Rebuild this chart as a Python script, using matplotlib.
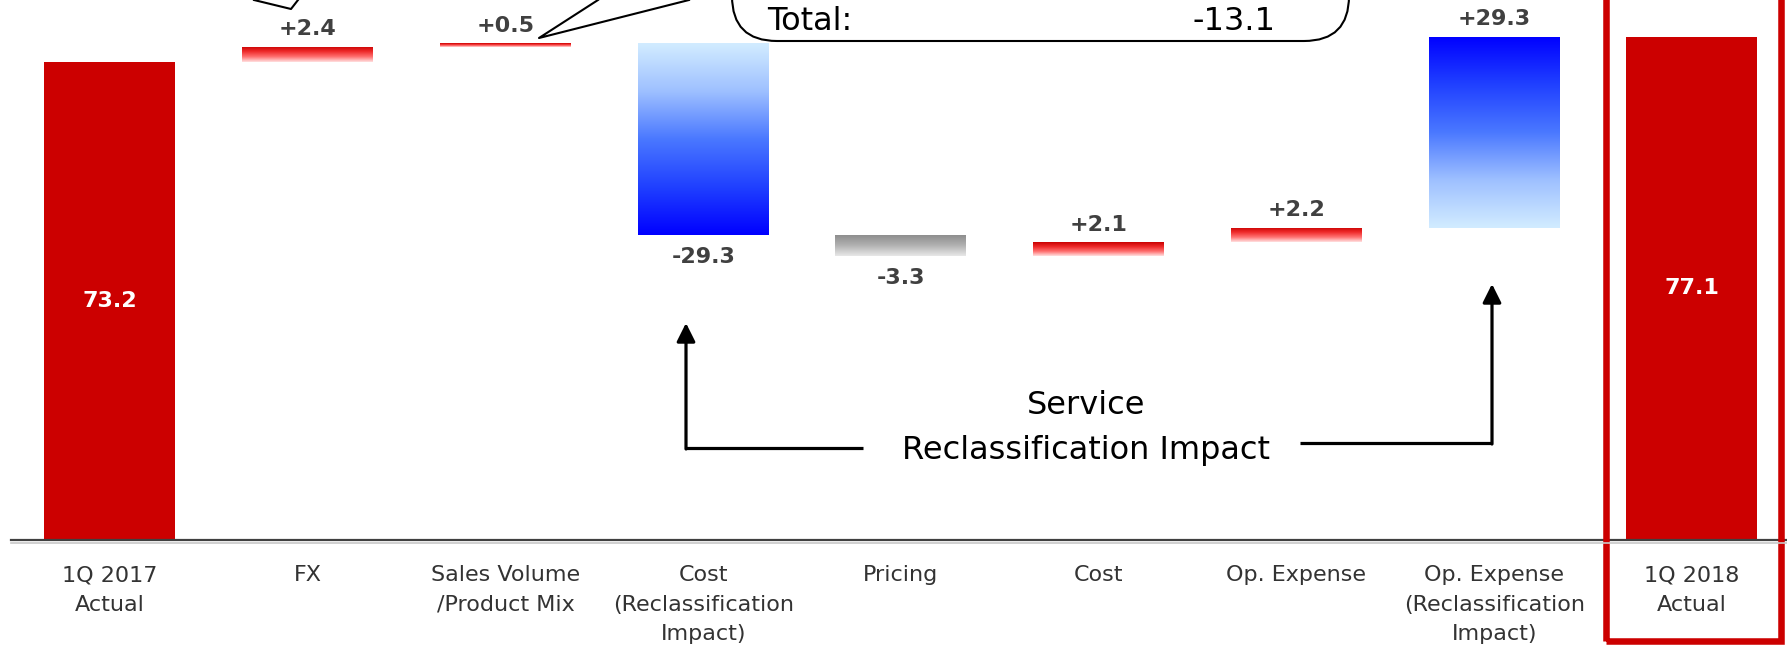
import numpy as np
import matplotlib
matplotlib.use("Agg")
import matplotlib.pyplot as plt
from matplotlib.colors import LinearSegmentedColormap
from matplotlib.patches import FancyBboxPatch, Rectangle
from matplotlib.transforms import blended_transform_factory

# data
categories = ["1Q 2017\nActual", "FX", "Sales Volume\n/Product Mix",
              "Cost\n(Reclassification\nImpact)", "Pricing", "Cost",
              "Op. Expense", "Op. Expense\n(Reclassification\nImpact)",
              "1Q 2018\nActual"]
values = [73.2, 2.4, 0.5, -29.3, -3.3, 2.1, 2.2, 29.3, 77.1]
is_total = [True, False, False, False, False, False, False, False, True]
value_labels = ["73.2", "+2.4", "+0.5", "-29.3", "-3.3", "+2.1", "+2.2", "+29.3", "77.1"]
bar_style = ["total", "red", "red", "blue_dn", "grey", "red", "red", "blue_up", "total"]

callout_label = "Total:"
callout_value = "-13.1"
note_text = "Service\nReclassification Impact"

W, H = 1787, 646
fig = plt.figure(figsize=(W / 100, H / 100), dpi=100)
ax = fig.add_axes([0, 1 - 540 / H, 1, 540 / H])

# waterfall: where each bar starts / ends
bottoms, heights = [], []
level = 0.0
for v, tot in zip(values, is_total):
    if tot:
        bottoms.append(0.0)
        heights.append(v)
        level = v
    else:
        new = level + v
        bottoms.append(min(level, new))
        heights.append(abs(v))
        level = new

x = np.arange(len(categories))
bars = ax.bar(x, heights, bottom=bottoms, width=0.662, color="#cc0000",
              linewidth=0, zorder=2)

cmaps = {
    "red": LinearSegmentedColormap.from_list("r", ["#ffe2e2", "#ff7070", "#ee2a2a", "#c80000"]),
    "grey": LinearSegmentedColormap.from_list("g", ["#e8e8e8", "#b0b0b0", "#8a8a8a"]),
    "blue_up": LinearSegmentedColormap.from_list("bu", ["#d2ecff", "#9ec0ff", "#4a78ff", "#2040ff", "#0000ff"]),
    "blue_dn": LinearSegmentedColormap.from_list("bd", ["#0000ff", "#2040ff", "#4a78ff", "#9ec0ff", "#d2ecff"]),
}
grad = np.linspace(0, 1, 256).reshape(-1, 1)
for patch, st in zip(bars, bar_style):
    if st == "total":
        continue
    patch.set_facecolor("none")
    x0, y0 = patch.get_x(), patch.get_y()
    w, h = patch.get_width(), patch.get_height()
    im = ax.imshow(grad, extent=[x0, x0 + w, y0, y0 + h], origin="lower",
                   cmap=cmaps[st], aspect="auto", zorder=2, interpolation="bilinear")
    im.set_clip_path(patch)

# value labels
for i, (lab, st) in enumerate(zip(value_labels, bar_style)):
    b, h = bottoms[i], heights[i]
    if st == "total":
        ax.text(x[i], b + h / 2, lab, ha="center", va="center", color="white",
                fontsize=16, fontweight="bold", zorder=3)
    elif values[i] >= 0:
        ax.annotate(lab, (x[i], b + h), xytext=(0, 12.8), textcoords="offset points",
                    ha="center", va="center", color="#404040", fontsize=16, fontweight="bold")
    else:
        ax.annotate(lab, (x[i], b), xytext=(0, -16), textcoords="offset points",
                    ha="center", va="center", color="#404040", fontsize=16, fontweight="bold")

ax.set_xlim(-0.556, -0.556 + W / 197.75)
ax.set_ylim(0, 82.75)
ax.set_xticks(x)
ax.set_xticklabels(categories, fontsize=16, color="#333333", linespacing=1.6)
ax.tick_params(axis="x", length=0, pad=18)
ax.set_yticks([])
for s in ax.spines.values():
    s.set_visible(False)
ax.axhline(0, xmin=11 / W, xmax=1, color="#404040", lw=1.6, zorder=4, clip_on=False)
ax.patch.set_alpha(0)

# red frame around the final column
tr = blended_transform_factory(ax.transData, fig.transFigure)
fig.add_artist(Rectangle((7.565, 1 - 640.5 / H), 0.885, 1.2, transform=tr,
                         fill=False, edgecolor="#cc0000", lw=4.7))

# overlay in pixel coordinates for the callouts and arrows
ov = fig.add_axes([0, 0, 1, 1], zorder=5)
ov.set_xlim(0, W)
ov.set_ylim(H, 0)
ov.axis("off")
ov.patch.set_alpha(0)

# shadow under the baseline
ov.plot([11, W], [542.5, 542.5], color="#c8c8c8", lw=1.2)

ov.add_patch(FancyBboxPatch((732, -80), 617, 121,
                            boxstyle="round,pad=0,rounding_size=45",
                            facecolor="white", edgecolor="black", lw=1.5))
ov.plot([598, 539, 689], [0, 38, 0], color="black", lw=1.5)
ov.plot([254, 291, 298], [0, 9, 0], color="black", lw=1.5)
ov.text(767, 21, callout_label, ha="left", va="center", fontsize=23, color="black")
ov.text(1276, 21, callout_value, ha="right", va="center", fontsize=23, color="black")

ov.text(1086, 428, note_text, ha="center", va="center", fontsize=23,
        color="black", linespacing=1.6)
arrow_kw = dict(arrowstyle="-|>,head_length=0.4,head_width=0.2", lw=2.3,
                color="black", mutation_scale=28, shrinkA=0, shrinkB=0)
ov.plot([863, 686], [448, 448], color="black", lw=2.3, solid_capstyle="butt")
ov.annotate("", xy=(686, 323), xytext=(686, 449), arrowprops=arrow_kw)
ov.plot([1300, 1492], [443, 443], color="black", lw=2.3, solid_capstyle="butt")
ov.annotate("", xy=(1492, 284), xytext=(1492, 444), arrowprops=arrow_kw)

fig.savefig("out.png", dpi=100)
